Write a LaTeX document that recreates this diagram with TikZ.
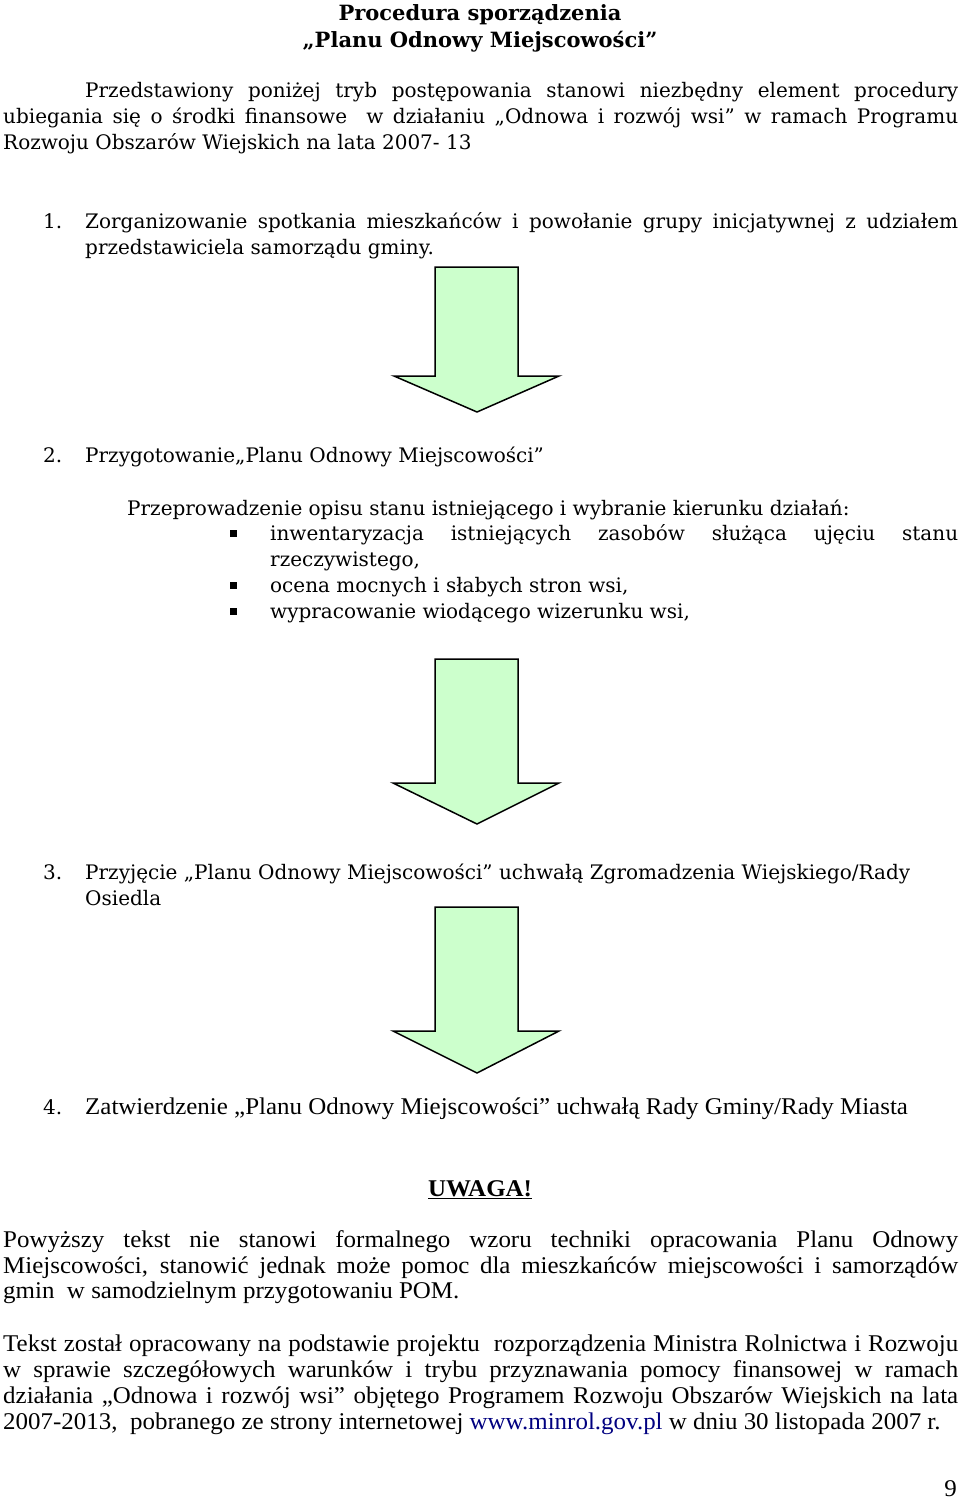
\documentclass[tikz,border=0pt]{standalone}
\usepackage{fontspec}
\setmainfont{DejaVu Serif}
\newfontfamily\condfont[FakeStretch=1.04]{Liberation Serif}
\usepackage{xcolor}
\definecolor{arrowgreen}{RGB}{204,255,204}
\definecolor{linkblue}{RGB}{0,0,128}
\newcommand{\jline}[2]{\makebox[#1][s]{#2}}

\begin{document}
\begin{tikzpicture}[x=1pt, y=-1pt,
    body/.style={anchor=base west, inner sep=0pt, font=\fontsize{20}{26}\selectfont},
    cond/.style={anchor=base west, inner sep=0pt, font=\condfont\fontsize{24}{26}\selectfont},
    heading/.style={anchor=base, inner sep=0pt, font=\bfseries\fontsize{21}{27}\selectfont},
    bulletsq/.style={rectangle, fill=black, minimum size=7pt, inner sep=0pt},
    downarrow/.style={draw=black, fill=arrowgreen, line width=1.5pt, line join=miter}
]
\useasboundingbox (0,0) rectangle (960,1502);

% title
\node[heading] (title1) at (480,20) {Procedura sporządzenia};
\node[heading] (title2) at (480,47) {„Planu Odnowy Miejscowości”};

% introduction
\node[body] (intro1) at (85,97) {\jline{873pt}{Przedstawiony poniżej tryb postępowania stanowi niezbędny element procedury}};
\node[body] (intro2) at (3,123) {\jline{955pt}{ubiegania się o środki finansowe \ w działaniu „Odnowa i rozwój wsi” w ramach Programu}};
\node[body] (intro3) at (3,149) {Rozwoju Obszarów Wiejskich na lata 2007- 13};

% step 1
\node[body] (num1) at (43,228) {1.};
\node[body] (step1a) at (85,228) {\jline{873pt}{Zorganizowanie spotkania mieszkańców i powołanie grupy inicjatywnej z udziałem}};
\node[body] (step1b) at (85,254) {przedstawiciela samorządu gminy.};

\draw[downarrow] (435,267) -- (518,267) -- (518,376) -- (559,376) -- (477,412) -- (394,376) -- (435,376) -- cycle;

% step 2
\node[body] (num2) at (43,462) {2.};
\node[body] (step2) at (85,462) {Przygotowanie„Planu Odnowy Miejscowości”};
\node[body] (desc) at (127,515) {Przeprowadzenie opisu stanu istniejącego i wybranie kierunku działań:};
\node[bulletsq] (b1) at (233,533) {};
\node[body] (item1a) at (270,540) {\jline{688pt}{inwentaryzacja istniejących zasobów służąca ujęciu stanu}};
\node[body] (item1b) at (270,566) {rzeczywistego,};
\node[bulletsq] (b2) at (233,585) {};
\node[body] (item2) at (270,592) {ocena mocnych i słabych stron wsi,};
\node[bulletsq] (b3) at (233,611) {};
\node[body] (item3) at (270,618) {wypracowanie wiodącego wizerunku wsi,};

\draw[downarrow] (435,659) -- (518,659) -- (518,783) -- (559,783) -- (477,824) -- (393,783) -- (435,783) -- cycle;

% step 3
\node[body] (num3) at (43,879) {3.};
\node[body] (step3a) at (85,879) {Przyjęcie „Planu Odnowy Miejscowości” uchwałą Zgromadzenia Wiejskiego/Rady};
\node[body] (step3b) at (85,905) {Osiedla};

\draw[downarrow] (435,907) -- (518,907) -- (518,1031) -- (559,1031) -- (477,1073) -- (393,1031) -- (435,1031) -- cycle;

% step 4
\node[body] (num4) at (43,1114) {4.};
\node[cond] (step4) at (85,1114) {Zatwierdzenie „Planu Odnowy Miejscowości” uchwałą Rady Gminy/Rady Miasta};

% note
\node[cond, anchor=base, font=\condfont\bfseries\fontsize{24}{26}\selectfont] (note) at (480,1196) {\underline{UWAGA!}};
\node[cond] (note1) at (3,1247) {\jline{955pt}{Powyższy tekst nie stanowi formalnego wzoru techniki opracowania Planu Odnowy}};
\node[cond] (note2) at (3,1273) {\jline{955pt}{Miejscowości, stanowić jednak może pomoc dla mieszkańców miejscowości i samorządów}};
\node[cond] (note3) at (3,1298) {gmin \ w samodzielnym przygotowaniu POM.};

\node[cond] (src1) at (3,1351) {\jline{955pt}{Tekst został opracowany na podstawie projektu \ rozporządzenia Ministra Rolnictwa i Rozwoju}};
\node[cond] (src2) at (3,1377) {\jline{955pt}{w sprawie szczegółowych warunków i trybu przyznawania pomocy finansowej w ramach}};
\node[cond] (src3) at (3,1403) {\jline{955pt}{działania „Odnowa i rozwój wsi” objętego Programem Rozwoju Obszarów Wiejskich na lata}};
\node[cond] (src4) at (3,1429) {2007-2013, \ pobranego ze strony internetowej \textcolor{linkblue}{www.minrol.gov.pl} w dniu 30 listopada 2007 r.};

% page number
\node[cond, anchor=base east] (page) at (957,1496) {9};
\end{tikzpicture}
\end{document}
